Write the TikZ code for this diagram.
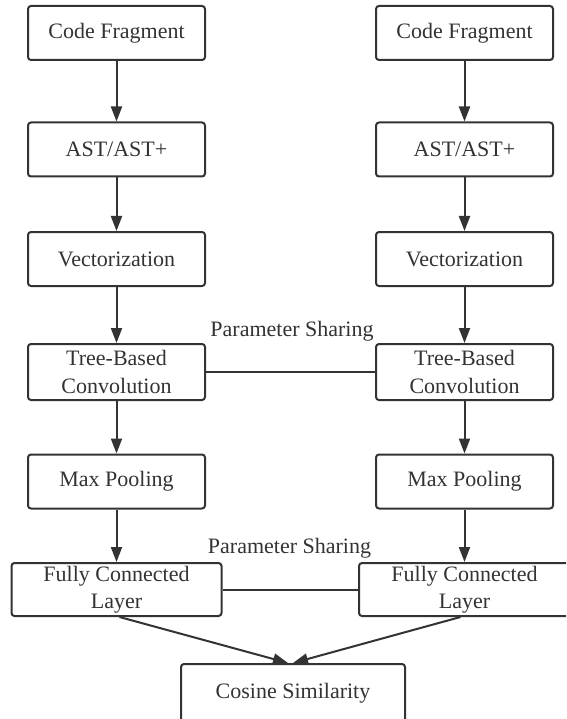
\documentclass[tikz,border=0pt]{standalone}
\usepackage{fontspec}
\setmainfont{Liberation Serif}
\usetikzlibrary{arrows.meta,calc}
\definecolor{ink}{HTML}{333333}
\definecolor{txt}{HTML}{333333}
\begin{document}
\begin{tikzpicture}[x=1pt,y=-1pt,
  box/.style={draw=ink, line width=2pt, rounded corners=3pt, fill=white,
    text=txt, align=center, inner sep=0pt,
    font=\fontsize{22}{27.5}\selectfont},
  arr/.style={draw=ink, line width=2pt, -{Triangle[length=15pt,width=11pt]}},
  link/.style={draw=ink, line width=2pt},
  lbl/.style={text=txt, font=\fontsize{22}{27}\selectfont, inner sep=0pt}]
\path[use as bounding box] (0,0) rectangle (566,719);
\clip (0,0) rectangle (566,719);
% left column
\node[box, minimum width=177pt, minimum height=54pt] (cfL) at (116.5,33) {Code Fragment};
\node[box, minimum width=177pt, minimum height=54pt] (astL) at (116.5,149.5) {AST/AST+};
\node[box, minimum width=177pt, minimum height=54pt] (vecL) at (116.5,259) {Vectorization};
\node[box, minimum width=177pt, minimum height=56pt] (treeL) at (116.5,372) {Tree-Based\\Convolution};
\node[box, minimum width=177pt, minimum height=54pt] (mpL) at (116.5,481.5) {Max Pooling};
\node[box, minimum width=210pt, minimum height=53pt] (fcL) at (116.5,589.5) {Fully Connected\\Layer};
% right column
\node[box, minimum width=177pt, minimum height=54pt] (cfR) at (464.5,33) {Code Fragment};
\node[box, minimum width=177pt, minimum height=54pt] (astR) at (464.5,149.5) {AST/AST+};
\node[box, minimum width=177pt, minimum height=54pt] (vecR) at (464.5,259) {Vectorization};
\node[box, minimum width=177pt, minimum height=56pt] (treeR) at (464.5,372) {Tree-Based\\Convolution};
\node[box, minimum width=177pt, minimum height=54pt] (mpR) at (464.5,481.5) {Max Pooling};
\node[box, minimum width=211pt, minimum height=53pt] (fcR) at (464.5,589.5) {Fully Connected\\Layer};
% bottom
\node[box, minimum width=224pt, minimum height=58pt] (cos) at (293,693) {Cosine Similarity};
% arrows
\foreach \s/\t in {cfL/astL, astL/vecL, vecL/treeL, treeL/mpL, mpL/fcL,
                   cfR/astR, astR/vecR, vecR/treeR, treeR/mpR, mpR/fcR}
  \draw[arr] (\s) -- (\t);
\draw[arr] ($(fcL.south)+(3,0)$) -- ($(cos.north)+(-5,0)$);
\draw[arr] ($(fcR.south)+(-4,0)$) -- ($(cos.north)+(0,0)$);
% parameter sharing
\draw[link] (treeL.east) -- (treeR.west);
\draw[link] (fcL.east) -- (fcR.west);
\node[lbl] (ps1) at (292,331) {Parameter Sharing};
\node[lbl] (ps2) at (289.5,548) {Parameter Sharing};
\end{tikzpicture}
\end{document}
